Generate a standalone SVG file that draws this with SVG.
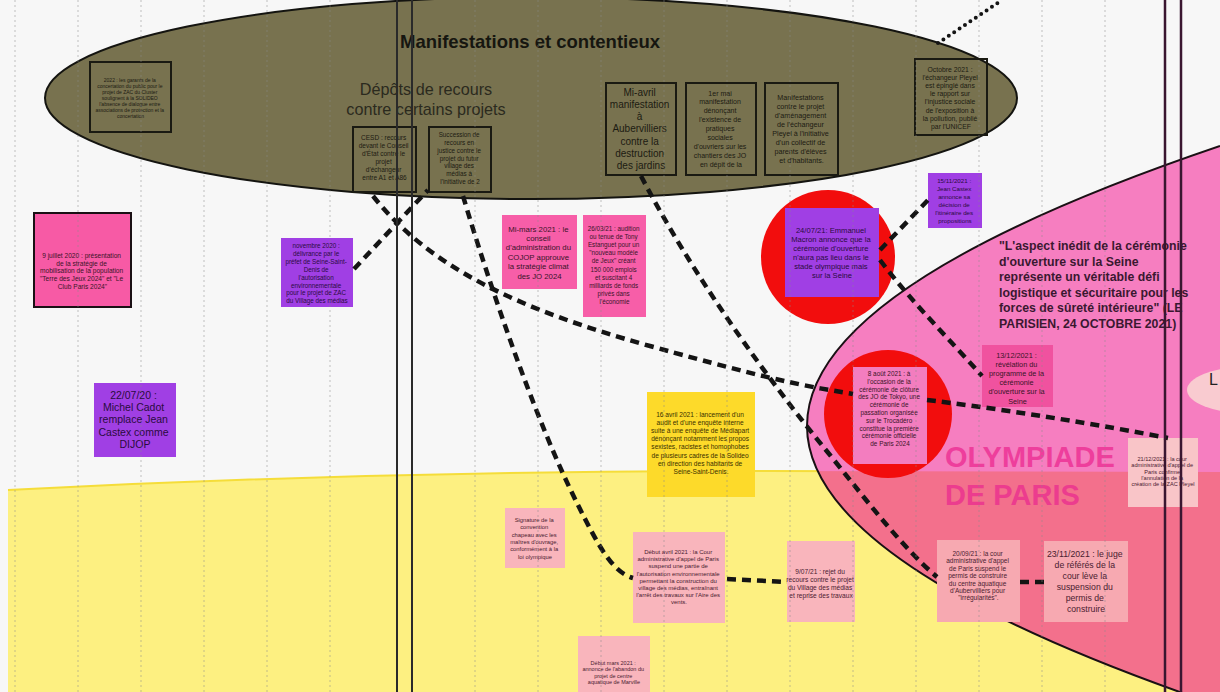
<svg xmlns="http://www.w3.org/2000/svg" width="1220" height="692" viewBox="0 0 1220 692">
<defs>
<style>
.t{font-family:"Liberation Sans",Arial,sans-serif;text-anchor:middle}
.olt{fill:#1c1b12}
.pkt{fill:#3a1428}
.ppt{fill:#2a0b3e}
.ylt{fill:#3a3000}
.lpt{fill:#4a2030}
.obox{fill:none;stroke:#1a1a12;stroke-width:2}
.hot{fill:#F75EA8}
.purple{fill:#A03FE4}
.lpink{fill:#F9B5BC}
.cpink{fill:#F7A9B1}
.grid{stroke:#8a8a8a;stroke-width:1;stroke-dasharray:2 3;opacity:.5}
.rule{stroke:#2a2a2a;stroke-width:2}
.rule2{stroke:#3a1630;stroke-width:2.5}
.dash{fill:none;stroke:#141414;stroke-width:4.5;stroke-dasharray:9 6}
.dots{fill:none;stroke:#141414;stroke-width:4;stroke-linecap:round;stroke-dasharray:0 6.5}
</style>
<clipPath id="yellowZone"><path d="M8,490 C200,480 450,472 700,471 L1230,472 L1230,700 L8,700 Z"/></clipPath>
</defs>

<!-- canvas -->
<rect x="0" y="0" width="1220" height="692" fill="#F7F7F7"/>

<!-- yellow band -->
<g id="yellow-band">
<path d="M8,490 C200,480 450,472 700,471 L1230,472 L1230,700 L8,700 Z" fill="#FDF081"/>
<path d="M8,490 C200,480 450,472 700,471 L1230,472" fill="none" stroke="#F5DD3A" stroke-width="2"/>
</g>

<!-- large pink zone: Olympiade de Paris -->
<g id="olympiade">
<path d="M1220,146 Q807,286 807,426 Q807,566 1220,706 L1230,706 L1230,146 Z" fill="#F67EC0"/>
<path d="M1220,146 Q807,286 807,426 Q807,566 1220,706 L1230,706 L1230,146 Z" fill="#F3708C" clip-path="url(#yellowZone)"/>
<path d="M1220,146 Q807,286 807,426 Q807,566 1220,706" fill="none" stroke="#1a1014" stroke-width="2"/>
<ellipse cx="1246" cy="390" rx="59" ry="23" fill="#F9CBD0"/>
<text x="1209" y="385" font-family="Liberation Sans, Arial, sans-serif" font-size="16" fill="#222">L</text>
<text x="945" y="467" font-family="Liberation Sans, Arial, sans-serif" font-weight="bold" font-size="29" fill="#EE3E9C">OLYMPIADE</text>
<text x="945" y="505" font-family="Liberation Sans, Arial, sans-serif" font-weight="bold" font-size="29" fill="#EC3C8E">DE PARIS</text>
</g>

<!-- olive zone -->
<g id="manifestations">
<ellipse cx="531" cy="98" rx="486" ry="101" fill="#78724F" stroke="#141410" stroke-width="2"/>
<text x="400" y="48" font-family="Liberation Sans, Arial, sans-serif" font-weight="bold" font-size="18.5" fill="#161610">Manifestations et contentieux</text>
<text class="t" x="426" y="95" font-size="16.2" fill="#2b2a1e">Dépôts de recours</text>
<text class="t" x="426" y="115" font-size="16.2" fill="#2b2a1e">contre certains projets</text>
</g>

<!-- quote -->
<g id="quote" font-family="Liberation Sans, Arial, sans-serif" font-weight="bold" font-size="12.3" fill="#3a1830">
<text x="999" y="250">"L'aspect inédit de la cérémonie</text>
<text x="999" y="265.5">d'ouverture sur la Seine</text>
<text x="999" y="281">représente un véritable défi</text>
<text x="999" y="296.5">logistique et sécuritaire pour les</text>
<text x="999" y="312">forces de sûreté intérieure" (LE</text>
<text x="999" y="327.5">PARISIEN, 24 OCTOBRE 2021)</text>
</g>

<!-- red highlights -->
<g id="highlight-1"><circle cx="828" cy="257" r="67" fill="#F20D0D"/></g>
<g id="highlight-2"><circle cx="888" cy="414" r="64" fill="#F20D0D"/></g>

<!-- notes inside the olive zone -->
<g id="n-garants">
<rect class="obox" x="90" y="62" width="81" height="70"/>
<text class="t olt" font-size="5">
<tspan x="130.5" y="82">2022 : les garants de la</tspan>
<tspan x="130.5" y="88">concertation du public pour le</tspan>
<tspan x="130.5" y="94">projet de ZAC du Cluster</tspan>
<tspan x="130.5" y="100">soulignent à la SOLIDEO</tspan>
<tspan x="130.5" y="106">l'absence de dialogue entre</tspan>
<tspan x="130.5" y="112">associations de protection et la</tspan>
<tspan x="130.5" y="117.5">concertation</tspan>
</text>
</g>

<g id="n-cesd">
<rect class="obox" x="353" y="127" width="63" height="65"/>
<text class="t olt" font-size="6.5">
<tspan x="384.5" y="140">CESD : recours</tspan>
<tspan x="384.5" y="148">devant le Conseil</tspan>
<tspan x="384.5" y="156">d'État contre le</tspan>
<tspan x="384.5" y="164">projet</tspan>
<tspan x="384.5" y="172">d'échangeur</tspan>
<tspan x="384.5" y="180">entre A1 et A86</tspan>
</text>
</g>

<g id="n-succession">
<rect class="obox" x="429" y="127" width="62" height="65"/>
<text class="t olt" font-size="6.3">
<tspan x="460" y="137">Succession de</tspan>
<tspan x="460" y="145">recours en</tspan>
<tspan x="460" y="153">justice contre le</tspan>
<tspan x="460" y="160.5">projet du futur</tspan>
<tspan x="460" y="168">village des</tspan>
<tspan x="460" y="176">médias à</tspan>
<tspan x="460" y="184">l'initiative de 2</tspan>
</text>
</g>

<g id="n-mi-avril">
<rect class="obox" x="606" y="83" width="70" height="92"/>
<text class="t olt" font-size="10">
<tspan x="641" y="95.5">Mi-avril</tspan>
<tspan x="641" y="107.8">manifestation</tspan>
<tspan x="641" y="120">à</tspan>
<tspan x="641" y="132.3">Aubervilliers</tspan>
<tspan x="641" y="144.5">contre la</tspan>
<tspan x="641" y="156.8">destruction</tspan>
<tspan x="641" y="169">des jardins</tspan>
</text>
</g>

<g id="n-1er-mai">
<rect class="obox" x="686" y="83" width="70" height="92"/>
<text class="t olt" font-size="7">
<tspan x="721" y="95.5">1er mai</tspan>
<tspan x="721" y="104.4">manifestation</tspan>
<tspan x="721" y="113.3">dénonçant</tspan>
<tspan x="721" y="122.2">l'existence de</tspan>
<tspan x="721" y="131.1">pratiques</tspan>
<tspan x="721" y="140">sociales</tspan>
<tspan x="721" y="148.9">d'ouvriers sur les</tspan>
<tspan x="721" y="157.8">chantiers des JO</tspan>
<tspan x="721" y="166.7">en dépit de la</tspan>
</text>
</g>

<g id="n-pleyel">
<rect class="obox" x="765" y="83" width="73" height="92"/>
<text class="t olt" font-size="7.2">
<tspan x="801.5" y="99.5">Manifestations</tspan>
<tspan x="801.5" y="108.6">contre le projet</tspan>
<tspan x="801.5" y="117.7">d'aménagement</tspan>
<tspan x="801.5" y="126.8">de l'échangeur</tspan>
<tspan x="801.5" y="135.9">Pleyel à l'initiative</tspan>
<tspan x="801.5" y="145">d'un collectif de</tspan>
<tspan x="801.5" y="154.1">parents d'élèves</tspan>
<tspan x="801.5" y="163.2">et d'habitants.</tspan>
</text>
</g>

<g id="n-octobre">
<rect class="obox" x="915" y="59" width="72" height="76"/>
<text class="t olt" font-size="6.8">
<tspan x="951" y="71.5">Octobre 2021 :</tspan>
<tspan x="951" y="79.7">l'échangeur Pleyel</tspan>
<tspan x="951" y="87.9">est épinglé dans</tspan>
<tspan x="951" y="96.1">le rapport sur</tspan>
<tspan x="951" y="104.3">l'injustice sociale</tspan>
<tspan x="951" y="112.5">de l'exposition à</tspan>
<tspan x="951" y="120.7">la pollution, publié</tspan>
<tspan x="951" y="128.9">par l'UNICEF</tspan>
</text>
</g>

<!-- notes on the white band -->
<g id="n-9-juillet">
<rect x="34" y="213" width="97" height="94" fill="#F75AA5" stroke="#1a1014" stroke-width="2"/>
<text class="t pkt" font-size="6.6">
<tspan x="82.5" y="258">9 juillet 2020 : présentation</tspan>
<tspan x="82.5" y="265.7">de la stratégie de</tspan>
<tspan x="82.5" y="273.4">mobilisation de la population</tspan>
<tspan x="82.5" y="281.1">"Terre des Jeux 2024" et "Le</tspan>
<tspan x="82.5" y="288.8">Club Paris 2024"</tspan>
</text>
</g>

<g id="n-novembre-2020">
<rect class="purple" x="281" y="238" width="72" height="69"/>
<text class="t ppt" font-size="6.3">
<tspan x="317" y="248">novembre 2020 :</tspan>
<tspan x="317" y="255.9">délivrance par le</tspan>
<tspan x="317" y="263.8">préfet de Seine-Saint-</tspan>
<tspan x="317" y="271.7">Denis de</tspan>
<tspan x="317" y="279.6">l'autorisation</tspan>
<tspan x="317" y="287.5">environnementale</tspan>
<tspan x="317" y="295.4">pour le projet de ZAC</tspan>
<tspan x="317" y="303.3">du Village des médias</tspan>
</text>
</g>

<g id="n-22-07-20">
<rect class="purple" x="94" y="383" width="82" height="74"/>
<text class="t ppt" font-size="10.5">
<tspan x="135" y="399">22/07/20 :</tspan>
<tspan x="135" y="411.2">Michel Cadot</tspan>
<tspan x="135" y="423.4">remplace Jean</tspan>
<tspan x="135" y="435.6">Castex comme</tspan>
<tspan x="135" y="447.8">DIJOP</tspan>
</text>
</g>

<g id="n-mi-mars">
<rect class="hot" x="502" y="215" width="75" height="74"/>
<text class="t pkt" font-size="7.8">
<tspan x="539.5" y="231.5">Mi-mars 2021 : le</tspan>
<tspan x="539.5" y="240.9">conseil</tspan>
<tspan x="539.5" y="250.3">d'administration du</tspan>
<tspan x="539.5" y="259.7">COJOP approuve</tspan>
<tspan x="539.5" y="269.1">la stratégie climat</tspan>
<tspan x="539.5" y="278.5">des JO 2024</tspan>
</text>
</g>

<g id="n-26-03-21">
<rect class="hot" x="583" y="215" width="63" height="102"/>
<text class="t pkt" font-size="6.3">
<tspan x="614.5" y="231">26/03/21 : audition</tspan>
<tspan x="614.5" y="239.1">ou tenue de Tony</tspan>
<tspan x="614.5" y="247.2">Estanguet pour un</tspan>
<tspan x="614.5" y="255.3">"nouveau modèle</tspan>
<tspan x="614.5" y="263.4">de Jeux" créant</tspan>
<tspan x="614.5" y="271.5">150 000 emplois</tspan>
<tspan x="614.5" y="279.6">et suscitant 4</tspan>
<tspan x="614.5" y="287.7">milliards de fonds</tspan>
<tspan x="614.5" y="295.8">privés dans</tspan>
<tspan x="614.5" y="303.9">l'économie</tspan>
</text>
</g>

<g id="n-24-07-21">
<rect class="purple" x="785" y="208" width="94" height="89"/>
<text class="t ppt" font-size="7.6">
<tspan x="832" y="232.5">24/07/21: Emmanuel</tspan>
<tspan x="832" y="241.5">Macron annonce que la</tspan>
<tspan x="832" y="250.5">cérémonie d'ouverture</tspan>
<tspan x="832" y="259.5">n'aura pas lieu dans le</tspan>
<tspan x="832" y="268.5">stade olympique mais</tspan>
<tspan x="832" y="277.5">sur la Seine</tspan>
</text>
</g>

<g id="n-15-11-2021">
<rect class="purple" x="928" y="173" width="54" height="55"/>
<text class="t ppt" font-size="6.2">
<tspan x="955" y="183">15/11/2021 :</tspan>
<tspan x="955" y="191">Jean Castex</tspan>
<tspan x="955" y="199">annonce sa</tspan>
<tspan x="955" y="207">décision de</tspan>
<tspan x="955" y="215">l'itinéraire des</tspan>
<tspan x="955" y="223">propositions</tspan>
</text>
</g>

<g id="n-13-12-2021">
<rect x="982" y="345" width="71" height="62" fill="#F0529F"/>
<text class="t pkt" font-size="7.3">
<tspan x="1017.5" y="357.5">13/12/2021 :</tspan>
<tspan x="1017.5" y="366.7">révélation du</tspan>
<tspan x="1017.5" y="375.9">programme de la</tspan>
<tspan x="1017.5" y="385.1">cérémonie</tspan>
<tspan x="1017.5" y="394.3">d'ouverture sur la</tspan>
<tspan x="1017.5" y="403.5">Seine</tspan>
</text>
</g>

<g id="n-8-aout">
<rect x="853" y="367" width="74" height="97" fill="#F37DBF"/>
<text class="t pkt" font-size="6.4">
<tspan x="890" y="376">8 août 2021 : à</tspan>
<tspan x="890" y="383.8">l'occasion de la</tspan>
<tspan x="890" y="391.6">cérémonie de clôture</tspan>
<tspan x="890" y="399.4">des JO de Tokyo, une</tspan>
<tspan x="890" y="407.2">cérémonie de</tspan>
<tspan x="890" y="415">passation organisée</tspan>
<tspan x="890" y="422.8">sur le Trocadéro</tspan>
<tspan x="890" y="430.6">constitue la première</tspan>
<tspan x="890" y="438.4">cérémonie officielle</tspan>
<tspan x="890" y="446.2">de Paris 2024</tspan>
</text>
</g>

<g id="n-16-avril">
<rect x="647" y="392" width="108" height="105" fill="#FDDA2A"/>
<text class="t ylt" font-size="6.6">
<tspan x="701" y="416.5">16 avril 2021 : lancement d'un</tspan>
<tspan x="701" y="424.7">audit et d'une enquête interne</tspan>
<tspan x="701" y="432.9">suite à une enquête de Médiapart</tspan>
<tspan x="701" y="441.1">dénonçant notamment les propos</tspan>
<tspan x="701" y="449.3">sexistes, racistes et homophobes</tspan>
<tspan x="701" y="457.5">de plusieurs cadres de la Solideo</tspan>
<tspan x="701" y="465.7">en direction des habitants de</tspan>
<tspan x="701" y="473.9">Seine-Saint-Denis.</tspan>
</text>
</g>

<g id="n-21-12-2021">
<rect x="1128" y="438" width="70" height="69" fill="#F9C5C8"/>
<text class="t lpt" font-size="5.6">
<tspan x="1163" y="461">21/12/2021 : la cour</tspan>
<tspan x="1163" y="467.3">administrative d'appel de</tspan>
<tspan x="1163" y="473.6">Paris confirme</tspan>
<tspan x="1163" y="479.9">l'annulation de la</tspan>
<tspan x="1163" y="486.2">création de la ZAC Pleyel</tspan>
</text>
</g>

<!-- notes on the yellow band -->
<g id="n-signature">
<rect class="lpink" x="505" y="508" width="60" height="60"/>
<text class="t lpt" font-size="5.8">
<tspan x="535" y="522">Signature de la</tspan>
<tspan x="535" y="529.3">convention</tspan>
<tspan x="535" y="536.6">chapeau avec les</tspan>
<tspan x="535" y="543.9">maîtres d'ouvrage,</tspan>
<tspan x="535" y="551.2">conformément à la</tspan>
<tspan x="535" y="558.5">loi olympique</tspan>
</text>
</g>

<g id="n-debut-avril">
<rect class="lpink" x="633" y="532" width="92" height="91"/>
<text class="t lpt" font-size="6">
<tspan x="679" y="554">Début avril 2021 : la Cour</tspan>
<tspan x="679" y="561.2">administrative d'appel de Paris</tspan>
<tspan x="679" y="568.4">suspend une partie de</tspan>
<tspan x="679" y="575.6">l'autorisation environnementale</tspan>
<tspan x="679" y="582.8">permettant la construction du</tspan>
<tspan x="679" y="590">village des médias, entraînant</tspan>
<tspan x="679" y="597.2">l'arrêt des travaux sur l'Aire des</tspan>
<tspan x="679" y="604.4">vents.</tspan>
</text>
</g>

<g id="n-9-07-21">
<rect class="lpink" x="787" y="541" width="68" height="81"/>
<text class="t lpt" font-size="6.6">
<tspan x="821" y="573.5">9/07/21 : rejet du</tspan>
<tspan x="821" y="581.8">recours contre le projet</tspan>
<tspan x="821" y="590.1">du Village des médias</tspan>
<tspan x="821" y="598.4">et reprise des travaux</tspan>
</text>
</g>

<g id="n-debut-mars">
<rect class="lpink" x="578" y="636" width="72" height="60"/>
<text class="t lpt" font-size="5.5">
<tspan x="614" y="665">Début mars 2021 :</tspan>
<tspan x="614" y="671.4">annonce de l'abandon du</tspan>
<tspan x="614" y="677.8">projet de centre</tspan>
<tspan x="614" y="684.2">aquatique de Marville</tspan>
</text>
</g>

<g id="n-20-09-21">
<rect class="cpink" x="937" y="540" width="83" height="82"/>
<text class="t lpt" font-size="6.5">
<tspan x="978.5" y="556">20/09/21 : la cour</tspan>
<tspan x="978.5" y="563.4">administrative d'appel</tspan>
<tspan x="978.5" y="570.8">de Paris suspend le</tspan>
<tspan x="978.5" y="578.2">permis de construire</tspan>
<tspan x="978.5" y="585.6">du centre aquatique</tspan>
<tspan x="978.5" y="593">d'Aubervilliers pour</tspan>
<tspan x="978.5" y="600.4">"irrégularités".</tspan>
</text>
</g>

<g id="n-23-11-2021">
<rect class="cpink" x="1044" y="541" width="84" height="81"/>
<text class="t lpt" font-size="8.7">
<tspan x="1086" y="557">23/11/2021 : le juge</tspan>
<tspan x="1086" y="568">de référés de la</tspan>
<tspan x="1086" y="579">cour lève la</tspan>
<tspan x="1086" y="590">suspension du</tspan>
<tspan x="1086" y="601">permis de</tspan>
<tspan x="1086" y="612">construire</tspan>
</text>
</g>

<!-- connectors -->
<g id="connectors">
<path class="dash" d="M354,269 L428,190"/>
<path class="dash" d="M373,196 C430,268 520,310 650,346 S800,385 853,394"/>
<path class="dash" d="M463,196 C488,280 535,420 578,505 C598,545 612,572 633,578"/>
<path class="dash" d="M727,579 L787,582"/>
<path class="dash" d="M641,176 C690,270 760,370 830,455 C870,505 905,550 937,577"/>
<path class="dash" d="M1020,582 L1044,582"/>
<path class="dash" d="M880,250 L928,200"/>
<path class="dash" d="M880,260 C910,300 950,340 982,376"/>
<path class="dash" d="M927,400 C1010,410 1100,425 1168,438"/>
<path class="dots" d="M938,43 L1002,0"/>
</g>

<!-- column guides -->
<g id="grid">
<path class="grid" d="M15,0V692 M78,0V692 M141,0V692 M204,0V692 M267,0V692 M330,0V692 M475,0V692 M538,0V692 M601,0V692 M664,0V692 M727,0V692 M790,0V692 M853,0V692 M916,0V692 M979,0V692 M1042,0V692 M1105,0V692"/>
<path class="rule" d="M397,0V692 M412,0V692"/>
<path class="rule2" d="M1165,0V692 M1181,0V692"/>
</g>
</svg>
